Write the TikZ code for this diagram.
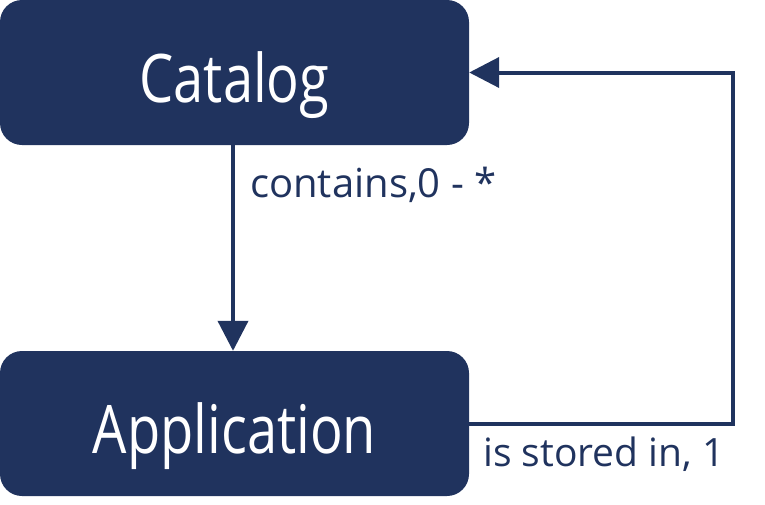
\documentclass[tikz,border=0pt]{standalone}
\usepackage{fontspec}
\usepackage{graphicx}
\setmainfont{Open Sans}
\usetikzlibrary{arrows.meta}
\definecolor{navy}{RGB}{32,51,94}
\tikzset{
  box/.style={fill=navy, rounded corners=22pt, minimum width=469pt, minimum height=145pt,
    inner sep=0pt, text=white, font=\fontsize{67}{70}\selectfont, text height=60pt, text depth=0pt},
  conn/.style={draw=navy, line width=4pt, -{Triangle[length=30pt,width=30pt]}},
  lbl/.style={text=navy, inner sep=0pt, anchor=base west}
}
\begin{document}
\begin{tikzpicture}[x=1pt,y=-1pt]
\useasboundingbox (0,0) rectangle (765,504);
\node[box] (catalog) at (234.5,72.5) {\scalebox{0.81}[1]{Catalog}};
\node[box] (application) at (234.5,423.5) {\scalebox{0.81}[1]{Application}};
\coordinate (rt) at (733,250);
\draw[conn] ([xshift=-1.5pt]catalog.south) -- ([xshift=-1.5pt]application.north);
\draw[conn, line join=miter] (application.east) -- (application.east -| rt) -- (catalog.east -| rt) -- (catalog.east);
\node[lbl, font=\fontsize{40}{46}\selectfont] (lcontains) at (250,197) {contains,0 - *};
\node[lbl, font=\fontsize{39}{46}\selectfont] (lstored) at (483,466) {is stored in, 1};
\end{tikzpicture}
\end{document}
